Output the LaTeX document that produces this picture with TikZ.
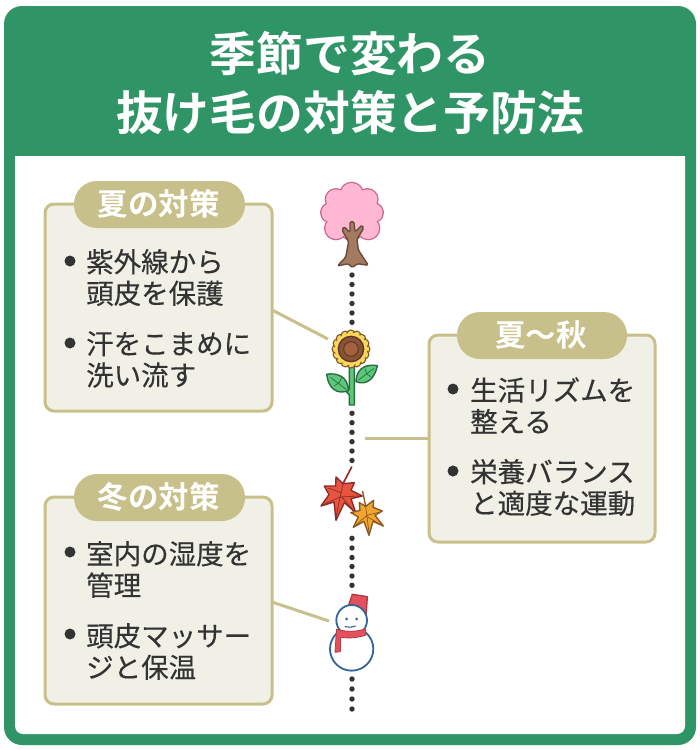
\documentclass[tikz,border=0pt]{standalone}
\usepackage{fontspec}
\setmainfont{Noto Sans CJK JP}[BoldFont={Noto Sans CJK JP Bold}]
\newfontfamily\medfont[FakeBold=0.3]{Noto Sans CJK JP}
\definecolor{grn}{HTML}{2F9567}
\definecolor{khaki}{HTML}{C8C08A}
\definecolor{boxbg}{HTML}{F1F0E7}
\definecolor{ink}{HTML}{333333}
\definecolor{crownd}{HTML}{C9688F}
\definecolor{crownf}{HTML}{FFB7D3}
\definecolor{trunkd}{HTML}{6B4A38}
\definecolor{trunkf}{HTML}{A27B60}
\definecolor{petalf}{HTML}{FFD65C}
\definecolor{petald}{HTML}{7A5A2A}
\definecolor{diskf}{HTML}{8A5236}
\definecolor{diskc}{HTML}{A5603F}
\definecolor{diskd}{HTML}{5B3A25}
\definecolor{leaff}{HTML}{5CC878}
\definecolor{leafd}{HTML}{2A6B45}
\definecolor{redf}{HTML}{E8553F}
\definecolor{redd}{HTML}{8C2A2A}
\definecolor{orgf}{HTML}{F3A62F}
\definecolor{orgd}{HTML}{8A5A22}
\definecolor{snowd}{HTML}{33659A}
\definecolor{hatf}{HTML}{E4505C}
\definecolor{hatd}{HTML}{B53A45}
\tikzset{
 x=1pt,y=-1pt,
 panel/.style={draw=khaki,line width=3pt,fill=boxbg,rounded corners=9pt},
 pill/.style={fill=khaki,rounded corners=23pt},
 pilltext/.style={text=white,font=\fontsize{30.5}{30.5}\selectfont\bfseries,inner sep=0pt},
 title/.style={text=white,font=\fontsize{46.8}{59}\selectfont\bfseries,align=center,inner sep=0pt},
 item/.style={text=ink,anchor=west,align=left,inner sep=0pt,font=\fontsize{27.5}{31.5}\selectfont\medfont},
 bullet/.style={fill=ink,circle,inner sep=0pt,minimum size=11pt},
 link/.style={draw=khaki,line width=3pt},
 zoomed/.style={x=0.3333pt,y=-0.3333pt},
 outl/.style={line width=1.4pt,line join=round},
}
\begin{document}
\begin{tikzpicture}
\useasboundingbox (0,0) rectangle (700,750);
\fill[white] (0,0) rectangle (700,750);
\fill[grn,rounded corners=18pt] (4,6) rectangle (696,745);
\fill[white,rounded corners=8pt] (15,130) rectangle (685,734);
\fill[grn] (10,125) rectangle (690,156);
\node[title] (ttl) at (350,83.5) {季節で変わる\\抜け毛の対策と予防法};

% timeline dots
\foreach \y in {275,284.5,294,303.5,313,322.3,413.3,422.7,432.3,441.7,451,460.5,538.3,548,557.5,566.5,576,585.3,679,689,699,709}
  \fill[ink] (352,\y) circle (2.7);

% panels
\draw[panel] (45,204) rectangle (272,411);
\fill[pill] (74,181) rectangle (245,228);
\node[pilltext] (t1) at (158.5,204) {夏の対策};
\node[bullet] at (70,261) {};
\node[item] (a1) at (86,277.5) {紫外線から\\頭皮を保護};
\node[bullet] at (70,343) {};
\node[item] (a2) at (86,359.5) {汗をこまめに\\洗い流す};

\draw[panel] (429,335) rectangle (655,542);
\fill[pill] (457,312) rectangle (627,359);
\node[pilltext] (t2) at (541,335) {夏〜秋};
\node[bullet] at (453,389) {};
\node[item] (b1) at (470,405.5) {生活リズムを\\整える};
\node[bullet] at (453,471) {};
\node[item] (b2) at (470,487.5) {栄養バランス\\と適度な運動};

\draw[panel] (45,497) rectangle (272,704);
\fill[pill] (74,474) rectangle (245,521);
\node[pilltext] (t3) at (158.5,497) {冬の対策};
\node[bullet] at (70,552) {};
\node[item] (c1) at (86,569.5) {室内の湿度を\\管理};
\node[bullet] at (70,634) {};
\node[item] (c2) at (86,651.5) {頭皮マッサー\\ジと保温};

% connectors
\coordinate (e1) at (328,339);
\coordinate (p1) at (272,310);
\draw[link] (p1) -- (e1);
\coordinate (e2) at (365,438);
\coordinate (p2) at (429,438);
\draw[link] (e2) -- (p2);
\coordinate (e3) at (329,621);
\coordinate (p3) at (272,602);
\draw[link] (p3) -- (e3);

% cherry tree
\begin{scope}[shift={(300,170)},zoomed]
 \def\bumps{(155,72) circle (33) (108,88) circle (30) (202,88) circle (30) (92,128) circle (28) (220,128) circle (28) (108,175) circle (32) (205,175) circle (32) (155,180) circle (30)}
 \draw[draw=crownd,line width=2.6pt] \bumps;
 \fill[crownf] \bumps;
 \fill[crownf] (155,130) circle (62);
 \draw[draw=trunkd,fill=trunkf,outl,rounded corners=1.5pt] (157,293) -- (145,281) -- (112,288) -- (137,262) -- (146,215) -- (126,180) -- (132,170) -- (150,188) -- (150,155) -- (162,155) -- (165,186) -- (186,165) -- (191,175) -- (171,207) -- (175,240) -- (205,286) -- (172,281) -- cycle;
\end{scope}

% sunflower
\begin{scope}[shift={(300,320)},zoomed]
 \draw[draw=leafd,fill=leaff,outl] (148,135) -- (163,135) -- (163,255) -- (148,255) -- (148,225) -- (133,208) -- (142,200) -- (148,208) -- cycle;
 \draw[draw=leafd,fill=leaff,outl] (80,163) .. controls (105,158) and (145,165) .. (145,212) .. controls (110,225) and (85,205) .. cycle;
 \draw[draw=leafd,line width=.7pt] (92,172) -- (138,208) (118,188) -- (125,172) (118,188) -- (103,198);
 \draw[draw=leafd,fill=leaff,outl] (232,137) .. controls (210,133) and (170,135) .. (168,185) .. controls (200,198) and (225,175) .. cycle;
 \draw[draw=leafd,line width=.7pt] (222,145) -- (175,180) (200,162) -- (195,146) (200,162) -- (213,170);
 \foreach \a in {0,22.5,...,337.5}
   \draw[draw=petald,fill=petalf,line width=1.1pt] ({153+44*cos(\a)},{87+44*sin(\a)}) circle (13);
 \fill[petalf] (153,87) circle (48);
 \draw[draw=diskd,fill=diskf,line width=1.4pt] (153,87) circle (38);
 \draw[draw=diskd,fill=diskc,line width=1pt] (153,87) circle (22);
\end{scope}

% maple leaves
\begin{scope}[shift={(315,462)},zoomed]
 \draw[draw=redd,line width=1.6pt,line cap=round] (110,15) -- (84,65);
 \draw[draw=redd,fill=redf,outl] (63,45) -- (84,65) -- (118,62) -- (108,85) -- (142,102) -- (108,110) -- (122,152) -- (88,122) -- (63,175) -- (57,120) -- (18,132) -- (42,98) -- (28,72) -- (62,72) -- cycle;
 \draw[draw=redd,line width=.7pt] (84,65) -- (63,165) (75,105) -- (130,102) (75,105) -- (30,125) (78,92) -- (40,78) (80,105) -- (115,145);
 \draw[draw=orgd,line width=1.3pt,line cap=round] (143,88) -- (152,133);
 \draw[draw=redd,line width=1.3pt,line cap=round] (108,152) -- (125,155);
 \draw[draw=orgd,fill=orgf,outl] (133,122) -- (152,133) -- (176,115) -- (174,136) -- (202,147) -- (180,160) -- (205,192) -- (174,178) -- (162,220) -- (147,178) -- (115,196) -- (130,165) -- (108,152) -- (135,145) -- cycle;
 \draw[draw=orgd,line width=.7pt] (152,133) -- (162,212) (156,160) -- (195,150) (156,160) -- (122,190) (158,165) -- (198,188);
\end{scope}

% snowman
\begin{scope}[shift={(300,580)},zoomed]
 \draw[draw=snowd,fill=white,line width=1.8pt] (155,207) circle (65);
 \draw[draw=hatd,fill=hatf,outl] (157,43) -- (202,50) -- (198,108) -- (143,84) -- cycle;
 \draw[draw=snowd,fill=white,line width=1.8pt] (155,121) circle (46);
 \draw[draw=hatd,fill=hatf,line width=.8pt,line join=round] (110,148) .. controls (140,156) and (170,156) .. (196,146) -- (198,165) .. controls (170,175) and (145,175) .. (122,172) -- (121,215) -- (105,217) -- (108,170) -- cycle;
 \fill[snowd] (140,117) circle (4.5) (170,117) circle (4.5);
 \draw[draw=snowd,line width=1.1pt,line cap=round] (135,140) .. controls (145,143) and (155,142) .. (166,138);
\end{scope}
\end{tikzpicture}
\end{document}
